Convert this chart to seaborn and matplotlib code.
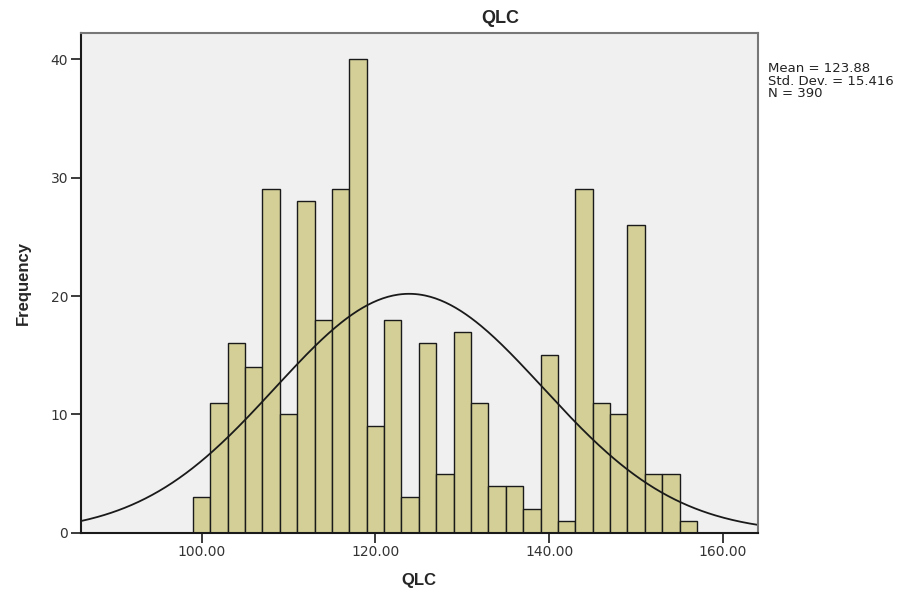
import numpy as np
import pandas as pd
import matplotlib
matplotlib.use("Agg")
import matplotlib.pyplot as plt
import seaborn as sns

# histogram of QLC scores, bins of width 2 centred on even values
bin_centers = [100, 102, 104, 106, 108, 110, 112, 114, 116, 118,
               120, 122, 124, 126, 128, 130, 132, 134, 136, 138,
               140, 142, 144, 146, 148, 150, 152, 154, 156]
counts = [3, 11, 16, 14, 29, 10, 28, 18, 29, 40,
          9, 18, 3, 16, 5, 17, 11, 4, 4, 2,
          15, 1, 29, 11, 10, 26, 5, 5, 1]
bin_width = 2

# summary stats shown by SPSS
mean_qlc = 123.88
std_qlc = 15.416
n_qlc = 390

x_ticks = [100, 120, 140, 160]
y_ticks = [0, 10, 20, 30, 40]

df = pd.DataFrame({"QLC": bin_centers, "count": counts})
bin_range = (bin_centers[0] - bin_width / 2, bin_centers[-1] + bin_width / 2)

sns.set_style("white")
plt.rcParams['font.family'] = ['DejaVu Sans']

fig = plt.figure(figsize=(9.22, 5.92), dpi=100)
ax = fig.add_axes([0.0875, 0.0997, 0.7345, 0.8446])
ax.set_facecolor("#F0F0F0")

sns.histplot(data=df, x="QLC", weights="count", binwidth=bin_width, binrange=bin_range,
             ax=ax, color="#D3CF97", alpha=1.0, edgecolor="#1a1a1a", linewidth=1.0)

# normal curve scaled to the counts
xlim = (86.1, 164.0)
xs = np.linspace(xlim[0], xlim[1], 400)
ys = n_qlc * bin_width / (std_qlc * np.sqrt(2 * np.pi)) * np.exp(-0.5 * ((xs - mean_qlc) / std_qlc) ** 2)
sns.lineplot(x=xs, y=ys, ax=ax, color="#1a1a1a", linewidth=1.3)

ax.set_xlim(*xlim)
ax.set_ylim(0, 42.2)
ax.set_xticks(x_ticks)
ax.set_xticklabels([f"{t:.2f}" for t in x_ticks])
ax.set_yticks(y_ticks)
ax.tick_params(axis="both", direction="out", length=7, width=1.2, colors="#1a1a1a",
               labelsize=10, labelcolor="#333333", pad=2, bottom=True, left=True)

for side in ["left", "bottom"]:
    ax.spines[side].set_color("#1a1a1a")
    ax.spines[side].set_linewidth(1.5)
for side in ["top", "right"]:
    ax.spines[side].set_color("#777777")
    ax.spines[side].set_linewidth(1.5)

ax.set_xlabel("QLC", fontsize=12, fontweight="bold", family=["Liberation Sans"], labelpad=10)
ax.set_ylabel("Frequency", fontsize=12, fontweight="bold", family=["Liberation Sans"], labelpad=14)

fig.text(0.543, 0.969, "QLC", ha="center", va="center", fontsize=13,
         fontweight="bold", family=["Liberation Sans"])
fig.text(0.833, 0.895,
         f"Mean = {mean_qlc:.2f}\nStd. Dev. = {std_qlc:.3f}\nN = {n_qlc}",
         ha="left", va="top", fontsize=9.5, linespacing=0.95, color="#222222")

fig.savefig("out.png", dpi=100)
